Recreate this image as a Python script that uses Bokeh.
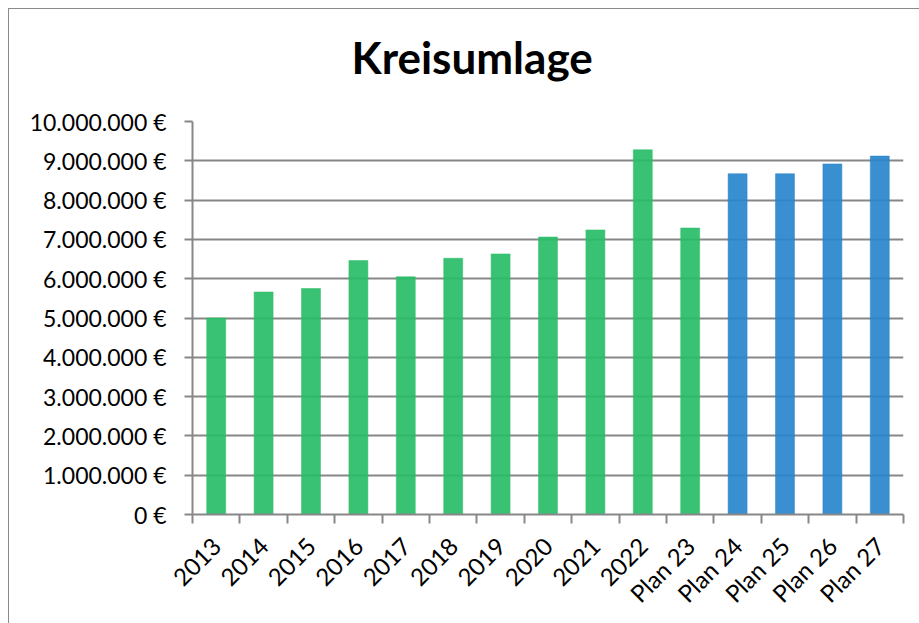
import math
from bokeh.plotting import figure
from bokeh.models import (ColumnDataSource, FixedTicker, CustomJSTickFormatter, Range1d, Title)
from bokeh.embed import file_html
from bokeh.resources import INLINE

title_text = "Kreisumlage"
categories = ["2013", "2014", "2015", "2016", "2017", "2018", "2019", "2020", "2021", "2022",
              "Plan 23", "Plan 24", "Plan 25", "Plan 26", "Plan 27"]
values = [5000000, 5660000, 5750000, 6460000, 6050000, 6520000, 6630000, 7060000, 7240000, 9280000,
          7290000, 8670000, 8670000, 8920000, 9120000]
is_plan = [False] * 11 + [True] * 4
y_ticks = [0, 1000000, 2000000, 3000000, 4000000, 5000000, 6000000, 7000000, 8000000, 9000000, 10000000]

GREEN = "#29BD68"
BLUE = "#2886CB"
GRID = "#878787"
FONT = "Lato"

xs = [i + 0.5 for i in range(len(categories))]
colors = [BLUE if pl else GREEN for pl in is_plan]
src = ColumnDataSource(dict(x=xs, top=values, color=colors, cat=categories))

p = figure(width=911, height=615, output_backend="svg", toolbar_location=None,
           x_range=Range1d(0, len(categories)), y_range=Range1d(0, 10000000),
           min_border_left=183, min_border_right=17, min_border_top=112, min_border_bottom=110,
           styles={"margin-left": "8px", "margin-top": "8px",
                   "border-left": "1px solid #8a8a8a", "border-top": "1px solid #8a8a8a"})
p.title = None

# spacer between frame and title (nearest the frame)
spacer = Title(text=" ", text_font_size="1px", standoff=34, text_color="white")
p.add_layout(spacer, "above")
t = Title(text=title_text, align="left", offset=159, text_font=FONT, text_font_size="44px",
          text_font_style="bold", text_color="black", standoff=0, vertical_align="top")
p.add_layout(t, "above")

p.vbar(x="x", top="top", width=0.4, fill_color="color", line_color="color", fill_alpha=0.92,
       line_alpha=0.5, source=src)

p.outline_line_color = None
p.xgrid.grid_line_color = None
p.ygrid.grid_line_color = GRID
p.ygrid.grid_line_width = 2
p.ygrid.ticker = FixedTicker(ticks=y_ticks)

p.yaxis.ticker = FixedTicker(ticks=y_ticks)
p.yaxis.formatter = CustomJSTickFormatter(code="""
    return Math.round(tick).toString().replace(/\\B(?=(\\d{3})+(?!\\d))/g, ".") + " \u20ac";
""")
p.yaxis.axis_line_color = GRID
p.yaxis.axis_line_width = 2
p.yaxis.major_tick_line_color = GRID
p.yaxis.major_tick_line_width = 2
p.yaxis.major_tick_out = 8
p.yaxis.major_tick_in = 0
p.yaxis.minor_tick_line_color = None
p.yaxis.major_label_text_font = FONT
p.yaxis.major_label_text_font_size = "23px"
p.yaxis.major_label_text_color = "black"
p.yaxis.major_label_standoff = 18

p.xaxis.ticker = FixedTicker(ticks=xs, minor_ticks=list(range(len(categories) + 1)))
p.xaxis.formatter = CustomJSTickFormatter(args=dict(labels=categories), code="""
    return labels[Math.floor(tick)];
""")
p.xaxis.axis_line_color = GRID
p.xaxis.axis_line_width = 2
p.xaxis.major_tick_line_color = None
p.xaxis.major_tick_out = 0
p.xaxis.major_tick_in = 0
p.xaxis.minor_tick_line_color = GRID
p.xaxis.minor_tick_line_width = 2
p.xaxis.minor_tick_out = 9
p.xaxis.minor_tick_in = 0
p.xaxis.major_label_orientation = math.pi / 4
p.xaxis.major_label_text_font = FONT
p.xaxis.major_label_text_font_size = "24px"
p.xaxis.major_label_text_color = "black"
p.xaxis.major_label_standoff = 18

open("out.html", "w").write(file_html(p, INLINE))
